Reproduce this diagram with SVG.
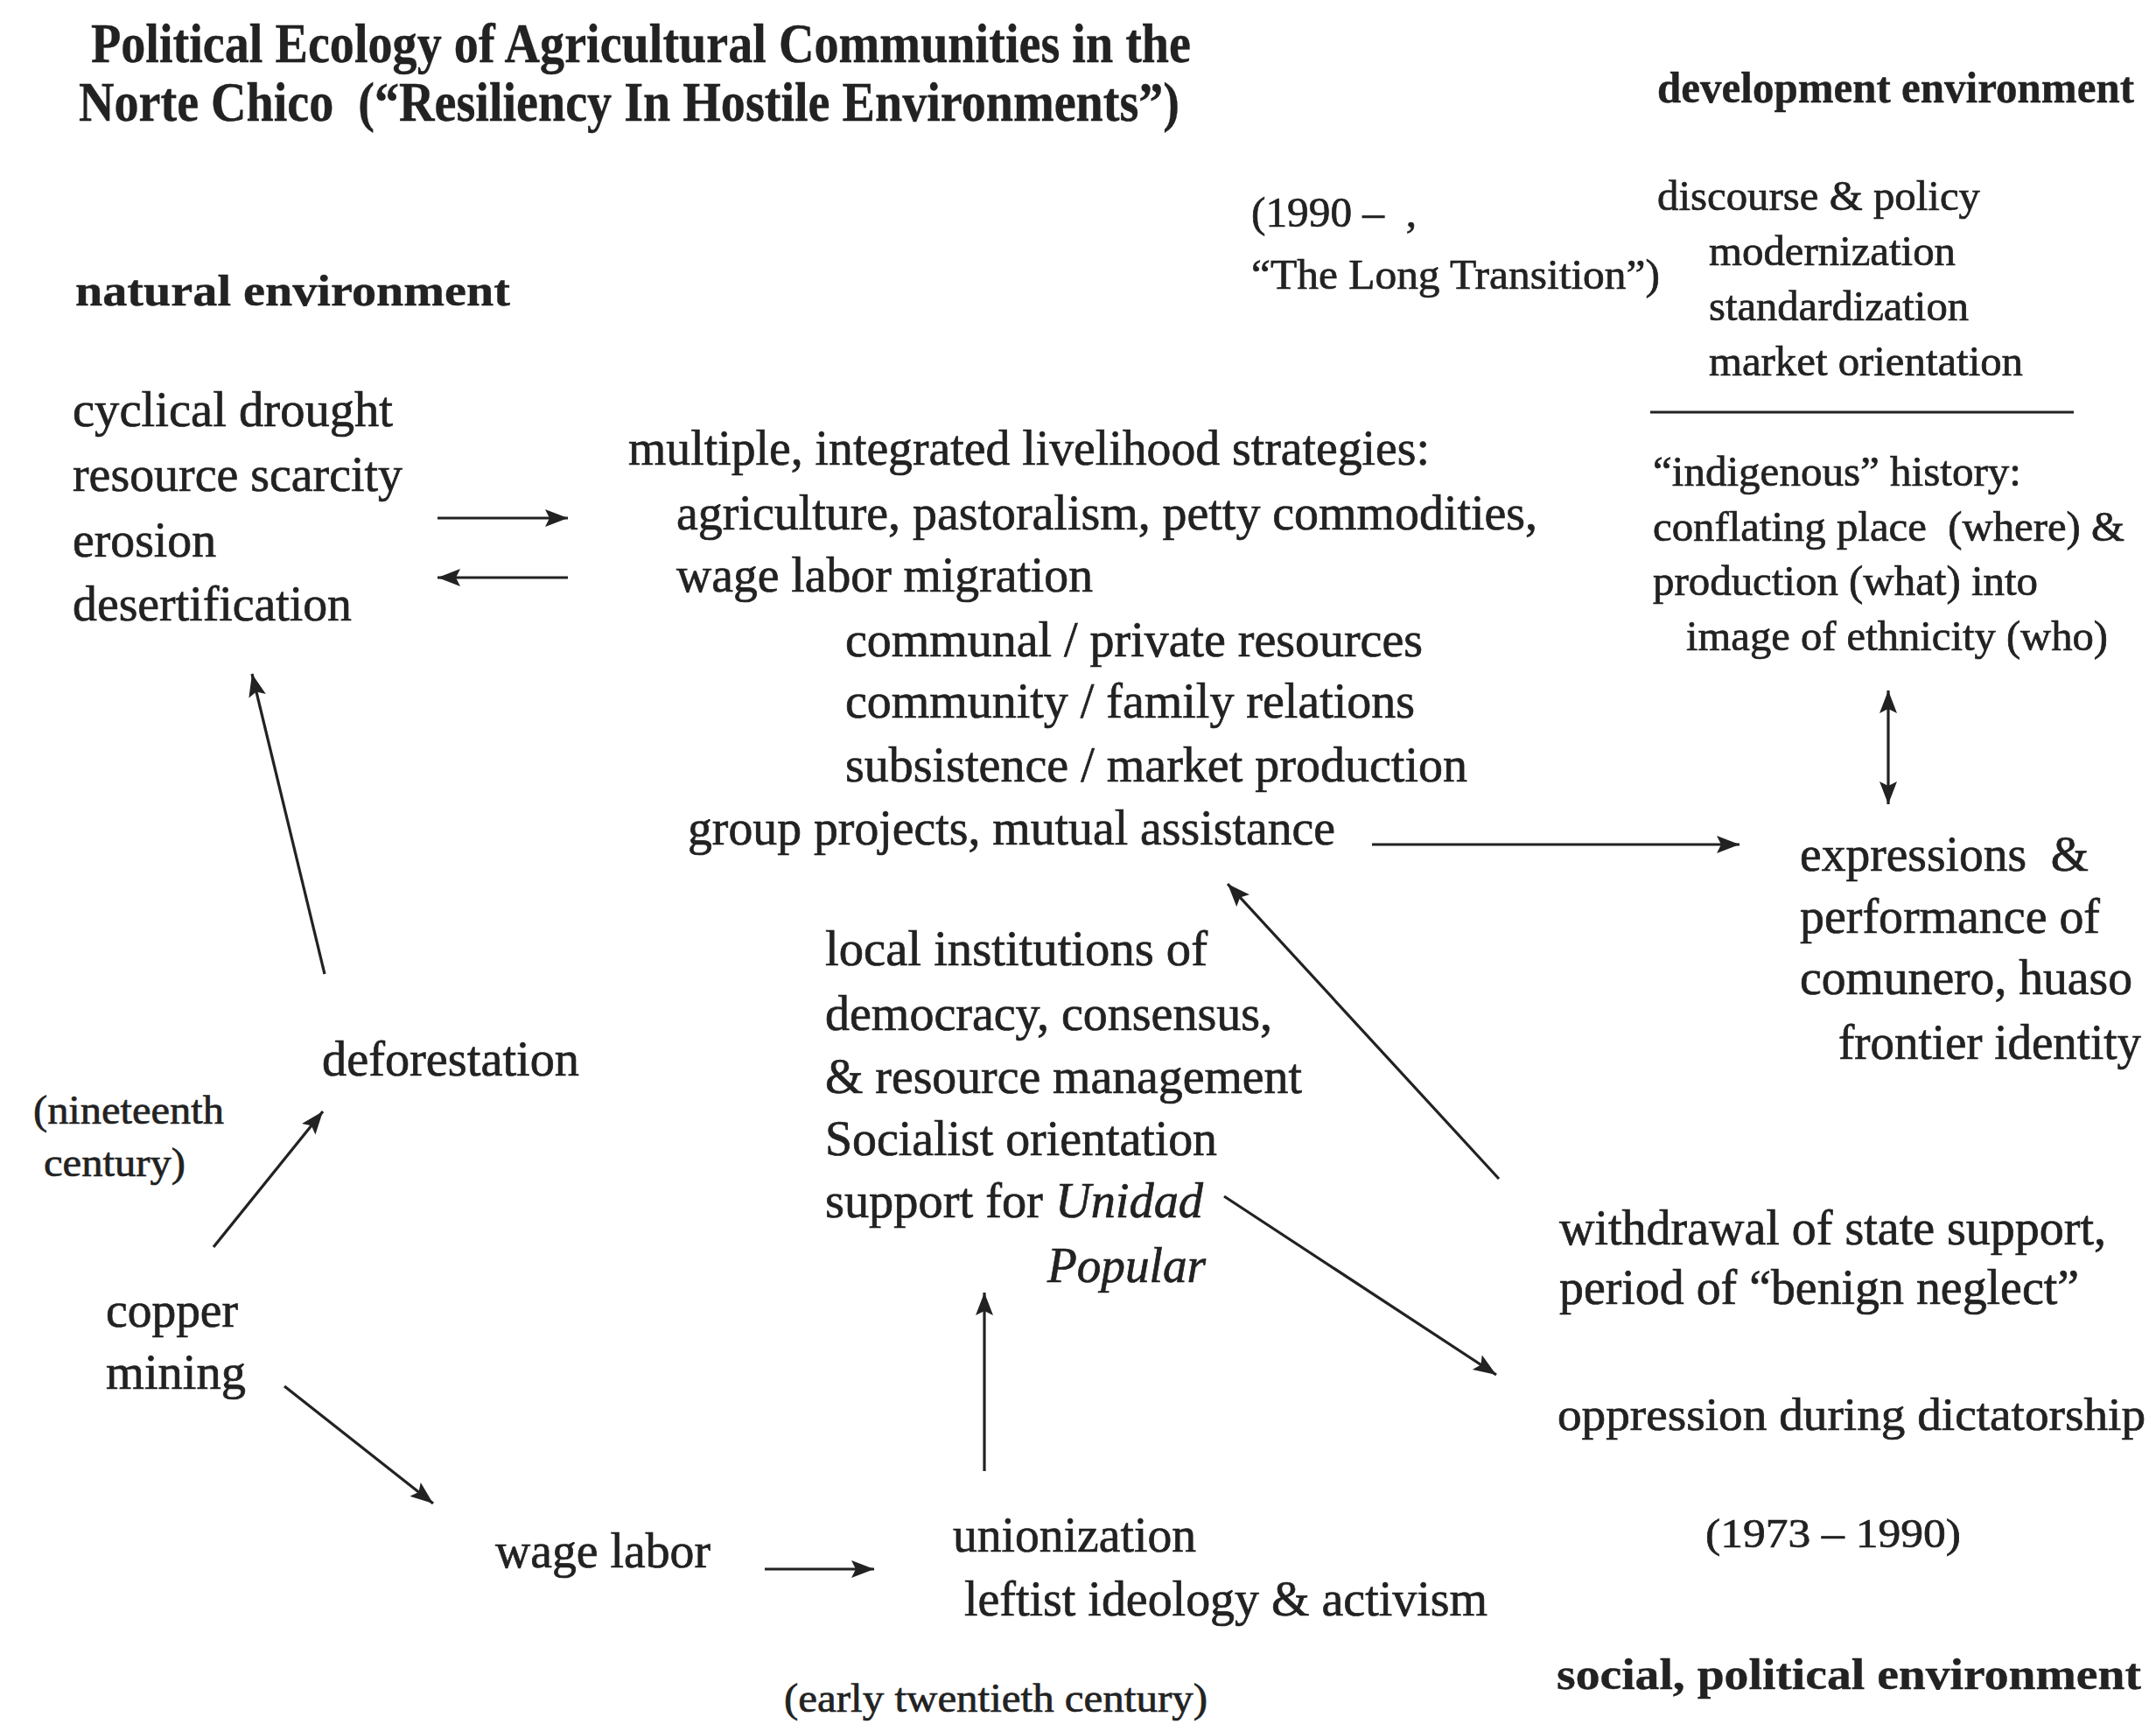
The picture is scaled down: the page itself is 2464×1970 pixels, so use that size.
<svg xmlns="http://www.w3.org/2000/svg" width="2464" height="1970" viewBox="0 0 2464 1970">
  <style>
    text { font-family: "Liberation Serif", "Times New Roman", serif; fill: #222; stroke: #222; stroke-width: 0.7px; }
    .title { font-size: 64px; font-weight: bold; stroke-width: 0.4px; }
    .head { font-size: 51px; font-weight: bold; stroke-width: 0.4px; }
    .body { font-size: 57px; }
    .small { font-size: 49px; }
    .note { font-size: 47px; }
    .it { font-style: italic; }
    .conn { stroke: #222; stroke-width: 3.2; fill: none; }
  </style>
  <defs>
    <marker id="arrow" markerUnits="userSpaceOnUse" markerWidth="30" markerHeight="22" refX="26" refY="10" orient="auto-start-reverse">
      <path d="M0,0 L26,10 L0,20 L5,10 z" fill="#222"/>
    </marker>
  </defs>
  <rect width="2464" height="1970" fill="#fff"/>

  <!-- heading -->
  <g id="title">
    <text class="title" x="104" y="71" textLength="1257" lengthAdjust="spacingAndGlyphs">Political Ecology of Agricultural Communities in the</text>
    <text class="title" x="90" y="138" textLength="1258" lengthAdjust="spacingAndGlyphs">Norte Chico&#160; (“Resiliency In Hostile Environments”)</text>
  </g>

  <!-- section labels -->
  <g id="label-natural">
    <text class="head" x="86" y="349" textLength="497" lengthAdjust="spacingAndGlyphs">natural environment</text>
  </g>
  <g id="label-development">
    <text class="head" x="1894" y="117" textLength="545" lengthAdjust="spacingAndGlyphs">development environment</text>
  </g>
  <g id="label-social">
    <text class="head" x="1779" y="1930" textLength="668" lengthAdjust="spacingAndGlyphs">social, political environment</text>
  </g>

  <!-- period notes -->
  <g id="period-transition">
    <text class="small" x="1430" y="259" textLength="189" lengthAdjust="spacingAndGlyphs">(1990 –&#160; ,</text>
    <text class="small" x="1430" y="330" textLength="467" lengthAdjust="spacingAndGlyphs">“The Long Transition”)</text>
  </g>
  <g id="period-nineteenth">
    <text class="note" x="38" y="1284" textLength="218" lengthAdjust="spacingAndGlyphs">(nineteenth</text>
    <text class="note" x="50" y="1344" textLength="162" lengthAdjust="spacingAndGlyphs">century)</text>
  </g>
  <g id="period-twentieth">
    <text class="note" x="896" y="1956" textLength="484" lengthAdjust="spacingAndGlyphs">(early twentieth century)</text>
  </g>
  <g id="period-dictatorship">
    <text class="note" x="1949" y="1768" textLength="292" lengthAdjust="spacingAndGlyphs">(1973 – 1990)</text>
  </g>

  <!-- development environment block -->
  <g id="discourse">
    <text class="small" x="1894" y="240" textLength="369" lengthAdjust="spacingAndGlyphs">discourse &amp; policy</text>
    <text class="small" x="1953" y="303" textLength="282" lengthAdjust="spacingAndGlyphs">modernization</text>
    <text class="small" x="1953" y="366" textLength="297" lengthAdjust="spacingAndGlyphs">standardization</text>
    <text class="small" x="1953" y="429" textLength="359" lengthAdjust="spacingAndGlyphs">market orientation</text>
    <line x1="1886" y1="471" x2="2370" y2="471" stroke="#222" stroke-width="3"/>
  </g>
  <g id="indigenous-history">
    <text class="small" x="1889" y="555" textLength="421" lengthAdjust="spacingAndGlyphs">“indigenous” history:</text>
    <text class="small" x="1889" y="618" textLength="539" lengthAdjust="spacingAndGlyphs">conflating place&#160; (where) &amp;</text>
    <text class="small" x="1889" y="680" textLength="440" lengthAdjust="spacingAndGlyphs">production (what) into</text>
    <text class="small" x="1927" y="743" textLength="482" lengthAdjust="spacingAndGlyphs">image of ethnicity (who)</text>
  </g>
  <g id="identity">
    <text class="body" x="2057" y="995" textLength="330" lengthAdjust="spacingAndGlyphs">expressions&#160; &amp;</text>
    <text class="body" x="2057" y="1066" textLength="343" lengthAdjust="spacingAndGlyphs">performance of</text>
    <text class="body" x="2057" y="1136" textLength="380" lengthAdjust="spacingAndGlyphs">comunero, huaso</text>
    <text class="body" x="2101" y="1210" textLength="346" lengthAdjust="spacingAndGlyphs">frontier identity</text>
  </g>

  <!-- natural environment block -->
  <g id="natural-conditions">
    <text class="body" x="83" y="487" textLength="366" lengthAdjust="spacingAndGlyphs">cyclical drought</text>
    <text class="body" x="83" y="561" textLength="377" lengthAdjust="spacingAndGlyphs">resource scarcity</text>
    <text class="body" x="83" y="636" textLength="164" lengthAdjust="spacingAndGlyphs">erosion</text>
    <text class="body" x="83" y="709" textLength="319" lengthAdjust="spacingAndGlyphs">desertification</text>
  </g>
  <g id="deforestation">
    <text class="body" x="368" y="1229" textLength="294" lengthAdjust="spacingAndGlyphs">deforestation</text>
  </g>
  <g id="copper-mining">
    <text class="body" x="121" y="1516" textLength="151" lengthAdjust="spacingAndGlyphs">copper</text>
    <text class="body" x="121" y="1587" textLength="160" lengthAdjust="spacingAndGlyphs">mining</text>
  </g>
  <g id="wage-labor">
    <text class="body" x="566" y="1791" textLength="246" lengthAdjust="spacingAndGlyphs">wage labor</text>
  </g>
  <g id="unionization">
    <text class="body" x="1089" y="1773" textLength="278" lengthAdjust="spacingAndGlyphs">unionization</text>
    <text class="body" x="1102" y="1846" textLength="598" lengthAdjust="spacingAndGlyphs">leftist ideology &amp; activism</text>
  </g>

  <!-- livelihood strategies -->
  <g id="livelihood">
    <text class="body" x="718" y="531" textLength="916" lengthAdjust="spacingAndGlyphs">multiple, integrated livelihood strategies:</text>
    <text class="body" x="773" y="605" textLength="984" lengthAdjust="spacingAndGlyphs">agriculture, pastoralism, petty commodities,</text>
    <text class="body" x="773" y="676" textLength="476" lengthAdjust="spacingAndGlyphs">wage labor migration</text>
    <text class="body" x="966" y="750" textLength="660" lengthAdjust="spacingAndGlyphs">communal / private resources</text>
    <text class="body" x="966" y="820" textLength="651" lengthAdjust="spacingAndGlyphs">community / family relations</text>
    <text class="body" x="966" y="893" textLength="711" lengthAdjust="spacingAndGlyphs">subsistence / market production</text>
    <text class="body" x="786" y="965" textLength="740" lengthAdjust="spacingAndGlyphs">group projects, mutual assistance</text>
  </g>
  <g id="local-institutions">
    <text class="body" x="943" y="1103" textLength="437" lengthAdjust="spacingAndGlyphs">local institutions of</text>
    <text class="body" x="943" y="1177" textLength="511" lengthAdjust="spacingAndGlyphs">democracy, consensus,</text>
    <text class="body" x="943" y="1249" textLength="545" lengthAdjust="spacingAndGlyphs">&amp; resource management</text>
    <text class="body" x="943" y="1320" textLength="448" lengthAdjust="spacingAndGlyphs">Socialist orientation</text>
    <text class="body" x="943" y="1391" textLength="432" lengthAdjust="spacingAndGlyphs">support for <tspan class="it">Unidad</tspan></text>
    <text class="body it" x="1197" y="1465" textLength="181" lengthAdjust="spacingAndGlyphs">Popular</text>
  </g>

  <!-- state policy -->
  <g id="state-withdrawal">
    <text class="body" x="1782" y="1422" textLength="625" lengthAdjust="spacingAndGlyphs">withdrawal of state support,</text>
    <text class="body" x="1782" y="1490" textLength="594" lengthAdjust="spacingAndGlyphs">period of “benign neglect”</text>
  </g>
  <g id="dictatorship">
    <text x="1780" y="1634" style="font-size:53px" textLength="672" lengthAdjust="spacingAndGlyphs">oppression during dictatorship</text>
  </g>

  <!-- connectors -->
  <g id="connectors" class="conn">
    <line x1="500" y1="592" x2="649" y2="592" marker-end="url(#arrow)"/>
    <line x1="649" y1="660" x2="500" y2="660" marker-end="url(#arrow)"/>
    <line x1="371" y1="1113" x2="288" y2="770" marker-end="url(#arrow)"/>
    <line x1="244" y1="1425" x2="369" y2="1270" marker-end="url(#arrow)"/>
    <line x1="325" y1="1584" x2="495" y2="1718" marker-end="url(#arrow)"/>
    <line x1="874" y1="1793" x2="999" y2="1793" marker-end="url(#arrow)"/>
    <line x1="1125" y1="1681" x2="1125" y2="1477" marker-end="url(#arrow)"/>
    <line x1="1568" y1="965" x2="1988" y2="965" marker-end="url(#arrow)"/>
    <line x1="2158" y1="789" x2="2158" y2="919" marker-start="url(#arrow)" marker-end="url(#arrow)"/>
    <line x1="1713" y1="1347" x2="1403" y2="1010" marker-end="url(#arrow)"/>
    <line x1="1399" y1="1367" x2="1710" y2="1571" marker-end="url(#arrow)"/>
  </g>
</svg>
